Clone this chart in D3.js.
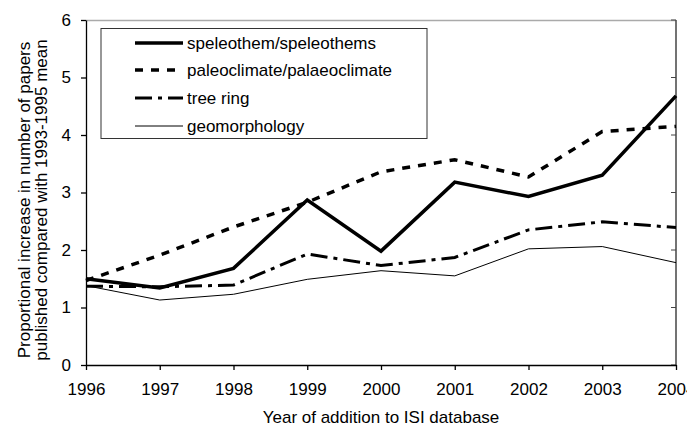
<!DOCTYPE html>
<html><head><meta charset="utf-8">
<script src="https://cdn.jsdelivr.net/npm/d3@7"></script>
<style>body{margin:0;background:#fff;} text{font-family:"Liberation Sans",Arial,sans-serif;}</style>
</head><body><svg id="c" width="687" height="427"></svg>
<script>
const years = [1996,1997,1998,1999,2000,2001,2002,2003,2004];
const yTicks = [0,1,2,3,4,5,6];
const speleothem = [1.50,1.34,1.68,2.87,1.98,3.18,2.93,3.30,4.68];
const paleoclimate = [1.47,1.91,2.40,2.83,3.36,3.57,3.27,4.06,4.15];
const treeRing = [1.37,1.36,1.39,1.93,1.73,1.87,2.35,2.49,2.39];
const geomorphology = [1.38,1.13,1.23,1.49,1.64,1.55,2.02,2.06,1.78];
const seriesNames = ["speleothem/speleothems","paleoclimate/palaeoclimate","tree ring","geomorphology"];
const xTitle = "Year of addition to ISI database";
const yTitle = ["Proportional increase in number of papers","published compared with 1993-1995 mean"];

const styles = [
  {w:3.5, dash:null},
  {w:3.5, dash:"8,8"},
  {w:3, dash:"17,6,4,6"},
  {w:1, dash:null}
];
const data = [speleothem, paleoclimate, treeRing, geomorphology];

const svg = d3.select("#c");
const L=86, R=676, T=20, B=365;
const x = d3.scaleLinear().domain([1996,2004]).range([L,R]);
const y = d3.scaleLinear().domain([0,6]).range([B,T]);

// plot border top/right
svg.append("line").attr("x1",L).attr("x2",R).attr("y1",T+0.5).attr("y2",T+0.5).attr("stroke","#aaa").attr("stroke-width",1.5);
svg.append("line").attr("x1",R).attr("x2",R).attr("y1",T).attr("y2",B).attr("stroke","#444").attr("stroke-width",1.5);
// right inner ticks
svg.append("g").selectAll("line").data(yTicks).join("line")
  .attr("x1",R-5).attr("x2",R).attr("y1",d=>y(d)).attr("y2",d=>y(d)).attr("stroke","#444");

const xAxis = svg.append("g").attr("transform",`translate(0,${B})`)
  .call(d3.axisBottom(x).tickValues(years).tickFormat(d3.format("d")).tickSize(5).tickSizeOuter(0));
const yAxis = svg.append("g").attr("transform",`translate(${L},0)`)
  .call(d3.axisLeft(y).tickValues(yTicks).tickFormat(d3.format("d")).tickSize(5).tickSizeOuter(0));
[xAxis,yAxis].forEach(g=>{
  g.selectAll("path,line").attr("stroke","#000").attr("stroke-width",1.3);
  g.selectAll("text").attr("font-size",17).attr("fill","#000").style("font-family","'Liberation Sans',Arial,sans-serif");
});
xAxis.selectAll("text").attr("dy","1.29em");
yAxis.selectAll("text").attr("x",-15);

const line = d3.line().x((d,i)=>x(years[i])).y(d=>y(d));
data.forEach((s,k)=>{
  svg.append("path").datum(s).attr("d",line).attr("fill","none").attr("stroke","#000")
    .attr("stroke-width",styles[k].w).attr("stroke-dasharray",styles[k].dash).attr("stroke-linejoin","miter");
});

// legend
const lg = svg.append("g");
lg.append("rect").attr("x",101).attr("y",28.5).attr("width",326).attr("height",110)
  .attr("fill","#fff").attr("stroke","#333").attr("stroke-width",1);
const rowY = [43,70,98,126];
seriesNames.forEach((n,k)=>{
  lg.append("line").attr("x1",135).attr("x2",183).attr("y1",rowY[k]).attr("y2",rowY[k])
    .attr("stroke","#000").attr("stroke-width",styles[k].w).attr("stroke-dasharray",styles[k].dash);
  lg.append("text").attr("x",187).attr("y",rowY[k]).attr("dy","0.36em").attr("font-size",17).text(n);
});

// titles
svg.append("text").attr("x",(L+R)/2).attr("y",423).attr("text-anchor","middle").attr("font-size",17).text(xTitle);
yTitle.forEach((t,i)=>{
  svg.append("text").attr("transform",`translate(${30+i*17},200) rotate(-90)`)
    .attr("text-anchor","middle").attr("font-size",17).text(t);
});
</script></body></html>
